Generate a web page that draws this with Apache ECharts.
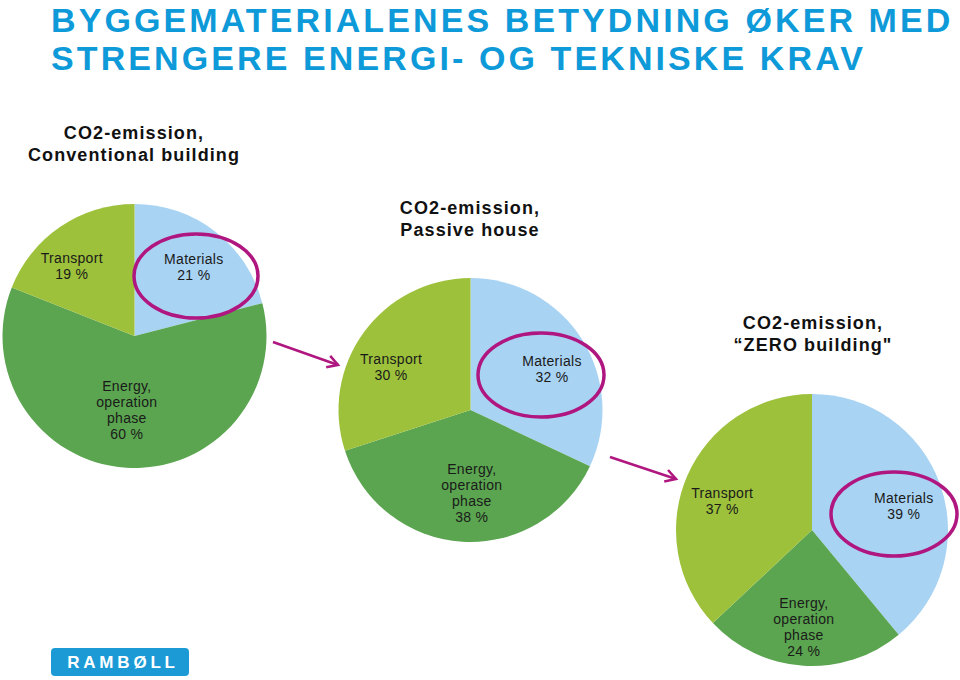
<!DOCTYPE html>
<html>
<head>
<meta charset="utf-8">
<script src="https://cdn.jsdelivr.net/npm/echarts@6/dist/echarts.min.js"></script>
<style>
html,body{margin:0;padding:0;background:#fff;}
#chart{width:960px;height:680px;}
#chart text[style*="34px"]{letter-spacing:3.1px;}
#chart text[style*="18px"]{letter-spacing:1.1px;}
#chart text[style*="14px"]{letter-spacing:0.3px;}
#chart text[style*="17px"]{letter-spacing:3.8px;}
</style>
</head>
<body>
<div id="chart"></div>
<script>
// ---- data ----
const categories = ['Materials', 'Energy, operation phase', 'Transport'];
const categoryLabels = ['Materials', 'Energy,\noperation\nphase', 'Transport'];
const conventionalValues = [21, 60, 19];
const passiveValues = [32, 38, 30];
const zeroValues = [39, 24, 37];
const pieTitles = [
  'CO2-emission,\nConventional building',
  'CO2-emission,\nPassive house',
  'CO2-emission,\n\u201CZERO building"'
];
const mainTitle = 'BYGGEMATERIALENES BETYDNING ØKER MED\nSTRENGERE ENERGI- OG TEKNISKE KRAV';
const logoText = 'RAMBØLL';

// ---- layout / style ----
const colors = ['#a9d3f3', '#5ba550', '#9dc13b'];
const pies = [
  { values: conventionalValues, center: [134.5, 336], r: 132,
    labelAt: [[57.5, -67], [-7.5, 71], [-61, -68]], title: [134, 144] },
  { values: passiveValues, center: [470.5, 410], r: 132,
    labelAt: [[79, -39.5], [1.5, 80.5], [-77, -41.5]], title: [470, 219] },
  { values: zeroValues, center: [812, 530], r: 136,
    labelAt: [[89, -23], [-8, 94], [-87, -28]], title: [813, 334] }
];
const magenta = '#b0167f';
const ellipses = [[196, 276, 62, 42], [541, 375, 63, 42], [894, 514, 63, 42]];
const arrows = [[273, 342, 338, 365], [610, 457, 676, 479]];

const series = pies.map((p) => {
  const total = p.values.reduce((a, b) => a + b, 0);
  let cum = 0;
  const data = p.values.map((v, i) => {
    const mid = (cum + v / 2) / total * 2 * Math.PI;
    cum += v;
    const base = [Math.sin(mid) * p.r / 2, -Math.cos(mid) * p.r / 2];
    return {
      name: categories[i],
      value: v,
      itemStyle: { color: colors[i] },
      label: { offset: [p.labelAt[i][0] - base[0], p.labelAt[i][1] - base[1]] }
    };
  });
  return {
    type: 'pie',
    center: p.center,
    radius: [0, p.r],
    startAngle: 90,
    clockwise: true,
    silent: true,
    animation: false,
    itemStyle: { borderWidth: 0 },
    label: {
      show: true,
      position: 'inside',
      color: '#1a1a1a',
      fontFamily: 'Liberation Sans, Arial, sans-serif',
      fontSize: 14,
      lineHeight: 16,
      formatter: (prm) => categoryLabels[prm.dataIndex] + '\n' + prm.value + ' %'
    },
    labelLine: { show: false },
    data: data
  };
});

const graphics = [];
pies.forEach((p, i) => {
  graphics.push({
    type: 'text', z: 100,
    style: {
      text: pieTitles[i], x: p.title[0], y: p.title[1],
      align: 'center', verticalAlign: 'middle',
      font: 'bold 18px "Liberation Sans", Arial, sans-serif',
      lineHeight: 22, fill: '#111'
    }
  });
});
ellipses.forEach((e) => {
  graphics.push({
    type: 'ellipse', z: 100,
    shape: { cx: e[0], cy: e[1], rx: e[2], ry: e[3] },
    style: { fill: null, stroke: magenta, lineWidth: 3.5 }
  });
});
arrows.forEach((a) => {
  const dx = a[2] - a[0], dy = a[3] - a[1];
  const len = Math.sqrt(dx * dx + dy * dy);
  const ux = dx / len, uy = dy / len;
  const h = 12, s = Math.sin(Math.PI / 6), c = Math.cos(Math.PI / 6);
  const p1 = [a[2] - h * (ux * c - uy * s), a[3] - h * (uy * c + ux * s)];
  const p2 = [a[2] - h * (ux * c + uy * s), a[3] - h * (uy * c - ux * s)];
  graphics.push({
    type: 'polyline', z: 100,
    shape: { points: [[a[0], a[1]], [a[2], a[3]]] },
    style: { stroke: magenta, lineWidth: 2.5, fill: null }
  });
  graphics.push({
    type: 'polyline', z: 100,
    shape: { points: [p1, [a[2], a[3]], p2] },
    style: { stroke: magenta, lineWidth: 2.5, fill: null, lineJoin: 'miter' }
  });
});
// logo
graphics.push({
  type: 'rect', z: 100,
  shape: { x: 51, y: 648, width: 138, height: 28, r: 4 },
  style: { fill: '#1b9ad6' }
});
graphics.push({
  type: 'text', z: 101,
  style: {
    text: logoText, x: 123, y: 662.5, align: 'center', verticalAlign: 'middle',
    font: 'bold 17px "Liberation Sans", Arial, sans-serif', fill: '#fff'
  }
});

const chart = echarts.init(document.getElementById('chart'), null, { renderer: 'svg' });
chart.setOption({
  backgroundColor: '#fff',
  animation: false,
  title: {
    text: mainTitle,
    left: 46, top: -4,
    textStyle: {
      color: '#0e9ad9', fontSize: 34, fontWeight: 'bold',
      fontFamily: 'Liberation Sans, Arial, sans-serif', lineHeight: 38
    }
  },
  series: series,
  graphic: graphics
});
</script>
</body>
</html>
